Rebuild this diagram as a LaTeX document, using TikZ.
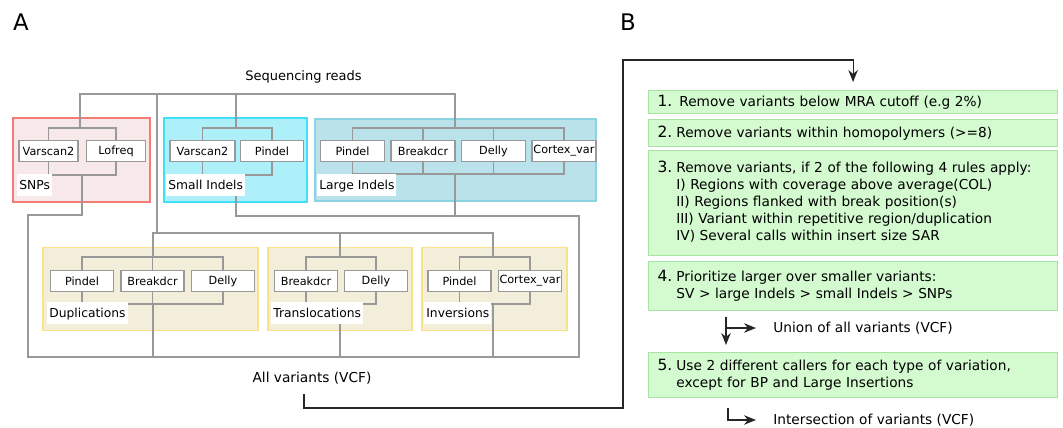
\documentclass[tikz,border=0pt]{standalone}
\usepackage{fontspec}
\setmainfont{DejaVu Sans}
\usetikzlibrary{positioning,arrows.meta}

\definecolor{linkgray}{HTML}{999999}
\definecolor{snpfill}{HTML}{F7E9E9}
\definecolor{snpborder}{HTML}{F47C72}
\definecolor{smlfill}{HTML}{AEF0FA}
\definecolor{smlborder}{HTML}{3FE0F5}
\definecolor{lrgfill}{HTML}{B9E2EA}
\definecolor{lrgborder}{HTML}{8AD3E3}
\definecolor{svfill}{HTML}{F3EEDA}
\definecolor{svborder}{HTML}{F9E38A}
\definecolor{stepfill}{HTML}{D4FAD0}
\definecolor{stepborder}{HTML}{A9E3A3}

\newcommand{\stepno}[1]{{\fontsize{8.8}{9.7}\selectfont #1}}

\begin{document}
\begin{tikzpicture}[
        x=0.02cm, y=-0.02cm, % одна единица = один пиксель
        link/.style = {draw=linkgray, line width=0.85pt}, % серые связи
        flow/.style = {draw=black!85, line width=0.6pt}, % стрелки справа
        tip/.style = {-{Stealth[length=0.24cm, width=0.19cm]}},
        tool/.style = {draw=linkgray, fill=white, line width=0.85pt, inner sep=0pt,
                minimum width=1.26cm, minimum height=0.42cm, font=\fontsize{6.4}{7}\selectfont}, % программы
        group/.style = {line width=0.7pt, inner sep=0pt, minimum height=1.66cm}, % типы вариантов
        grouplbl/.style = {fill=white, inner sep=0.04cm, anchor=south west,
                text height=0.76em, text depth=0.24em, font=\fontsize{7}{8}\selectfont},
        stepbox/.style = {draw=stepborder, fill=stepfill, line width=0.7pt, anchor=north west,
                text width=7.82cm, inner xsep=0.18cm, inner ysep=0pt, align=left,
                font=\fontsize{7.8}{9.7}\selectfont}, % шаги фильтрации
        note/.style = {inner sep=0pt, font=\fontsize{7.8}{9.7}\selectfont},
    ]
    \useasboundingbox (0,0) rectangle (1063,427);

    \node[font=\fontsize{13}{15}\selectfont] (labA) at (21,22) {A};
    \node[font=\fontsize{13}{15}\selectfont] (labB) at (628,22) {B};

    % панель A
    \node[font=\fontsize{7.4}{9}\selectfont] (seq) at (303.5,77) {Sequencing reads};
    \node[note] (allvar) at (312,378) {All variants (VCF)};

    \node[group, draw=snpborder, fill=snpfill, minimum width=2.74cm, minimum height=1.68cm] (snp) at (81.5,160) {};
    \node[group, draw=smlborder, fill=smlfill, minimum width=2.86cm, minimum height=1.68cm] (sml) at (235.5,160) {};
    \node[group, draw=lrgborder, fill=lrgfill, minimum width=5.62cm, minimum height=1.64cm] (lrg) at (455.5,160) {};
    \node[group, draw=svborder, fill=svfill, minimum width=4.3cm] (dup) at (150.5,289) {};
    \node[group, draw=svborder, fill=svfill, minimum width=2.88cm] (trl) at (340,289) {};
    \node[group, draw=svborder, fill=svfill, minimum width=2.9cm] (inv) at (494.5,289) {};

    \node[tool, minimum width=1.18cm] (snpV) at (48.5,151) {Varscan2};
    \node[tool, minimum width=1.18cm, right=0.14cm of snpV] (snpL) {Lofreq};

    \node[tool, minimum width=1.3cm] (smlV) at (202.5,151) {Varscan2};
    \node[tool, right=0.08cm of smlV] (smlP) {Pindel};

    \node[tool, minimum width=1.28cm] (lrgP) at (352.5,151) {Pindel};
    \node[tool, minimum width=1.28cm, right=0.1cm of lrgP] (lrgB) {Breakdcr};
    \node[tool, minimum width=1.28cm, right=0.1cm of lrgB] (lrgD) {Delly};
    \node[tool, minimum width=1.28cm, right=0.1cm of lrgD] (lrgC) {Cortex\_var};

    \node[tool] (dupP) at (82,281) {Pindel};
    \node[tool, right=0.12cm of dupP] (dupB) {Breakdcr};
    \node[tool, right=0.12cm of dupB] (dupD) {Delly};

    \node[tool] (trlB) at (306,281) {Breakdcr};
    \node[tool, right=0.11cm of trlB] (trlD) {Delly};

    \node[tool] (invP) at (459.5,281) {Pindel};
    \node[tool, right=0.12cm of invP] (invC) {Cortex\_var};

    \coordinate (snpIn) at (80,128);   \coordinate (snpOut) at (82,175);
    \coordinate (smlIn) at (236,128);  \coordinate (smlOut) at (236,175);
    \coordinate (lrgIn) at (455,128);  \coordinate (lrgOut) at (455,174);
    \coordinate (dupIn) at (153,257);  \coordinate (dupOut) at (153,304);
    \coordinate (trlIn) at (340,257);  \coordinate (trlOut) at (340,304);
    \coordinate (invIn) at (493,257);  \coordinate (invOut) at (493,304);
    \coordinate (seqBus) at (157,94);  \coordinate (svBus) at (157,233);
    \coordinate (snpDrop) at (28,215); \coordinate (merge) at (579,216);
    \coordinate (allBus) at (28,357);

    % скобки вокруг программ
    \draw[link] (snpV.north) |- (snpIn) -| (snpL.north);
    \draw[link] (snpV.south) |- (snpOut) -| (snpL.south);
    \draw[link] (smlV.north) |- (smlIn) -| (smlP.north);
    \draw[link] (smlV.south) |- (smlOut) -| (smlP.south);
    \draw[link] (lrgP.north) |- (lrgIn) -| (lrgC.north);
    \draw[link] (lrgP.south) |- (lrgOut) -| (lrgC.south);
    \foreach \t in {lrgB, lrgD} {
        \draw[link] (\t.north) -- (\t.north |- lrgIn);
        \draw[link] (\t.south) -- (\t.south |- lrgOut);
    }
    \draw[link] (dupP.north) |- (dupIn) -| (dupD.north);
    \draw[link] (dupP.south) |- (dupOut) -| (dupD.south);
    \draw[link] (dupB.north) -- (dupB.north |- dupIn);
    \draw[link] (dupB.south) -- (dupB.south |- dupOut);
    \draw[link] (trlB.north) |- (trlIn) -| (trlD.north);
    \draw[link] (trlB.south) |- (trlOut) -| (trlD.south);
    \draw[link] (invP.north) |- (invIn) -| (invC.north);
    \draw[link] (invP.south) |- (invOut) -| (invC.south);

    % входы и выходы
    \draw[link] (snpIn) |- (seqBus) -| (lrgIn);
    \draw[link] (smlIn) -- (smlIn |- seqBus);
    \draw[link] (seqBus) -- (svBus);
    \draw[link] (dupIn) |- (svBus) -| (invIn);
    \draw[link] (trlIn) -- (trlIn |- svBus);
    \draw[link] (snpOut) |- (snpDrop) -- (allBus) -| (merge) -| (smlOut);
    \draw[link] (lrgOut) -- (lrgOut |- merge);
    \draw[link] (dupOut) -- (dupOut |- allBus);
    \draw[link] (trlOut) -- (trlOut |- allBus);
    \draw[link] (invOut) -- (invOut |- allBus);

    \node[grouplbl] (snpLbl) at (17,196) {SNPs};
    \node[grouplbl] (smlLbl) at (166,196) {Small Indels};
    \node[grouplbl] (lrgLbl) at (317,196) {Large Indels};
    \node[grouplbl] (dupLbl) at (47,324) {Duplications};
    \node[grouplbl] (trlLbl) at (271,324) {Translocations};
    \node[grouplbl] (invLbl) at (424,324) {Inversions};

    % панель B
    \node[stepbox, minimum height=0.46cm] (s1) at (648,90) {\stepno{1.}\hspace{0.14cm}Remove variants below MRA cutoff (e.g 2\%)};
    \node[stepbox, minimum height=0.54cm] (s2) at (648,119) {\stepno{2.}\hspace{0.08cm}Remove variants within homopolymers (>=8)};
    \node[stepbox, minimum height=2.1cm] (s3) at (648,150) {%
        \begin{tabular}{@{}l@{\hspace{0.08cm}}l@{}}
            \stepno{3.} & Remove variants, if 2 of the following 4 rules apply:\\
                        & I) Regions with coverage above average(COL)\\
                        & II) Regions flanked with break position(s)\\
                        & III) Variant within repetitive region/duplication\\
                        & IV) Several calls within insert size SAR
        \end{tabular}};
    \node[stepbox, minimum height=0.98cm] (s4) at (648,261) {%
        \begin{tabular}{@{}l@{\hspace{0.08cm}}l@{}}
            \stepno{4.} & Prioritize larger over smaller variants:\\
                        & SV > large Indels > small Indels > SNPs
        \end{tabular}};
    \node[stepbox, minimum height=0.9cm] (s5) at (648,352) {%
        \begin{tabular}{@{}l@{\hspace{0.08cm}}l@{}}
            \stepno{5.} & Use 2 different callers for each type of variation,\\
                        & except for BP and Large Insertions
        \end{tabular}};

    \node[note, anchor=west] (union) at (773,328) {Union of all variants (VCF)};
    \node[note, anchor=west] (inter) at (773,420) {Intersection of variants (VCF)};

    \coordinate (vcfOut) at (304,394); \coordinate (bLow) at (623,408);
    \coordinate (bTop) at (623,60);    \coordinate (arrX) at (726,328);
    \coordinate (arrY) at (728,408);

    \draw[flow, tip, shorten >=0.16cm] (vcfOut) |- (bLow) -- (bTop) -| (s1.north);
    \draw[flow, tip, shorten <=0.12cm, shorten >=0.14cm] (s4.south -| arrX) -- (s5.north -| arrX);
    \draw[flow, tip, shorten >=0.34cm] (arrX) -- (union.west);
    \draw[flow, tip, shorten >=0.34cm] (arrY) |- (inter.west);
\end{tikzpicture}
\end{document}
